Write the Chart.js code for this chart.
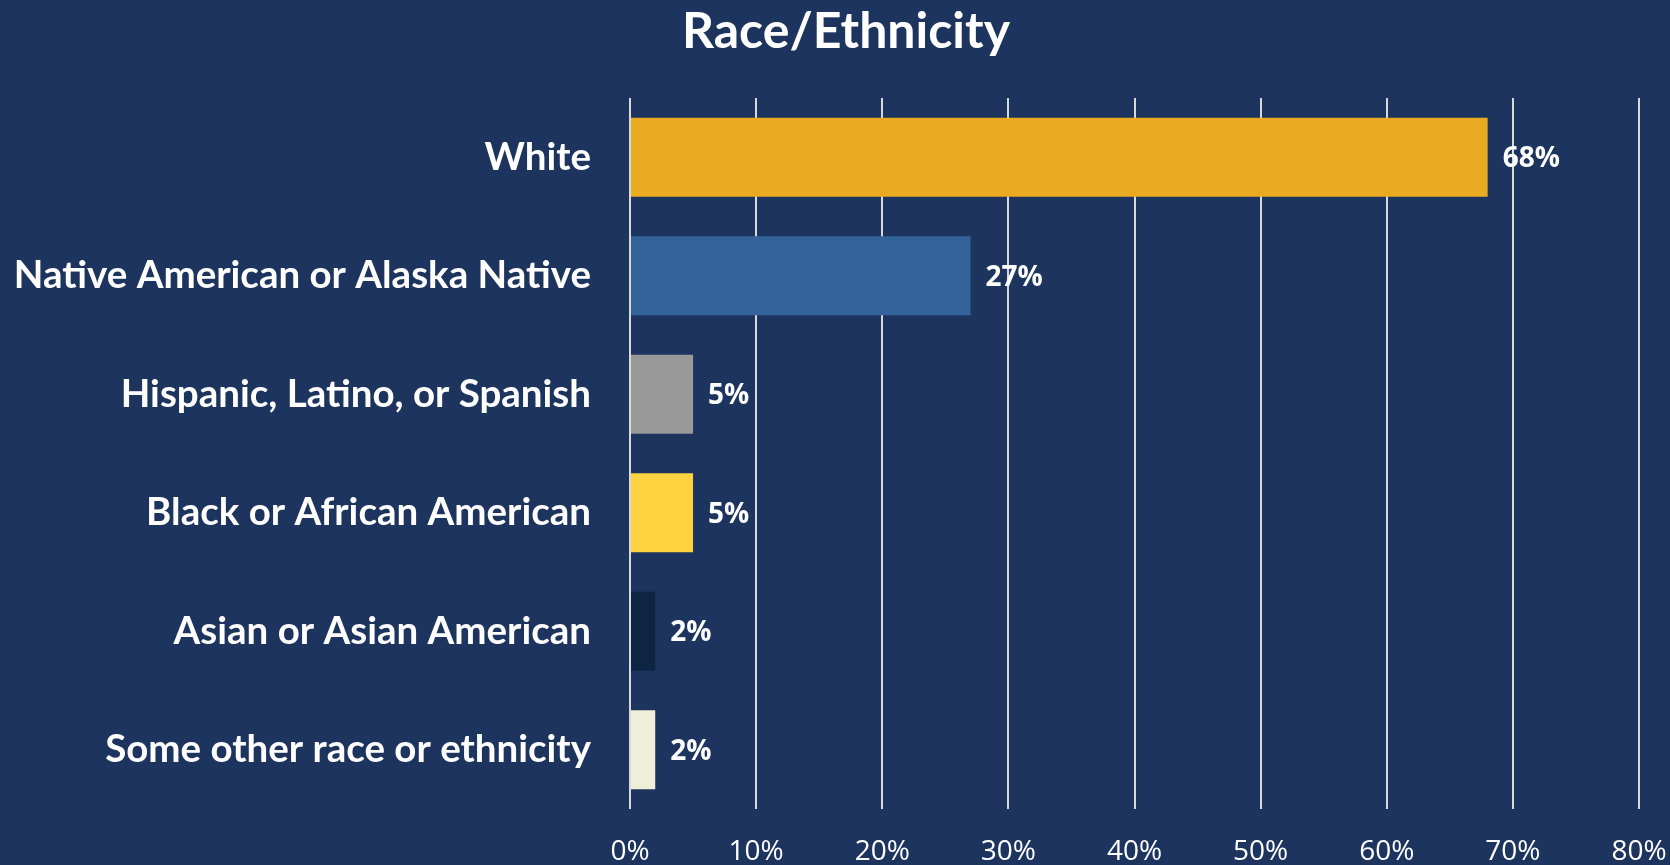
<!DOCTYPE html>
<html>
<head>
<meta charset="utf-8">
<script src="https://cdn.jsdelivr.net/npm/chart.js@4"></script>
<style>
  html, body { margin: 0; padding: 0; background: #1D345F; }
  #wrap { width: 1670px; height: 865px; }
</style>
</head>
<body>
<div id="wrap"><canvas id="raceChart"></canvas></div>
<script>
const chartTitle = 'Race/Ethnicity';
const categories = [
  'White',
  'Native American or Alaska Native',
  'Hispanic, Latino, or Spanish',
  'Black or African American',
  'Asian or Asian American',
  'Some other race or ethnicity'
];
const percentages = [68, 27, 5, 5, 2, 2];
const barColors = ['#EAAA22', '#336399', '#999999', '#FFD23F', '#0D2442', '#F0EDD8'];
const xTicks = [0, 10, 20, 30, 40, 50, 60, 70, 80];

const numFont = '"Open Sans", sans-serif';

// title is drawn by hand: in the original it sits a bit right of the canvas centre
const titleText = {
  id: 'titleText',
  afterDraw(chart) {
    const ctx = chart.ctx;
    ctx.save();
    ctx.fillStyle = '#ffffff';
    ctx.font = 'bold 50px Lato';
    ctx.textAlign = 'center';
    ctx.textBaseline = 'middle';
    ctx.fillText(chartTitle, 846, 32);
    ctx.restore();
  }
};

// draws the "68%" style labels at the end of each bar
const valueLabels = {
  id: 'valueLabels',
  afterDatasetsDraw(chart) {
    const ctx = chart.ctx;
    const meta = chart.getDatasetMeta(0);
    ctx.save();
    ctx.fillStyle = '#ffffff';
    ctx.font = 'bold 28px ' + numFont;
    ctx.textAlign = 'left';
    ctx.textBaseline = 'middle';
    meta.data.forEach((bar, i) => {
      ctx.fillText(percentages[i] + '%', bar.x + 15, bar.y + 2);
    });
    ctx.restore();
  }
};

const ctx = document.getElementById('raceChart').getContext('2d');
const raceChart = new Chart(ctx, {
  type: 'bar',
  data: {
    labels: categories,
    datasets: [{
      data: percentages,
      backgroundColor: barColors,
      borderWidth: 0,
      categoryPercentage: 0.665,
      barPercentage: 1
    }]
  },
  options: {
    indexAxis: 'y',
    responsive: true,
    maintainAspectRatio: false,
    animation: false,
    layout: { padding: { left: 0, right: 31, top: 98, bottom: 0 } },
    plugins: {
      legend: { display: false },
      tooltip: { enabled: false },
      title: { display: false }
    },
    scales: {
      x: {
        min: 0,
        max: 80,
        afterBuildTicks: axis => { axis.ticks = xTicks.map(v => ({ value: v })); },
        afterFit: axis => {
          axis.height = 56;
          axis.paddingLeft = 0;
          axis.paddingRight = 0;
        },
        grid: { color: '#D9D9D9', lineWidth: 2, drawTicks: false },
        border: { display: false },
        ticks: {
          color: '#ffffff',
          padding: 26,
          font: { family: numFont, size: 28 },
          callback: v => v + '%'
        }
      },
      y: {
        afterFit: axis => { axis.width = 630; },
        grid: { display: false },
        border: { display: false },
        ticks: {
          color: '#ffffff',
          padding: 31,
          font: { family: 'Lato', size: 38.5, weight: 'bold' }
        }
      }
    }
  },
  plugins: [valueLabels, titleText]
});
</script>
</body>
</html>
